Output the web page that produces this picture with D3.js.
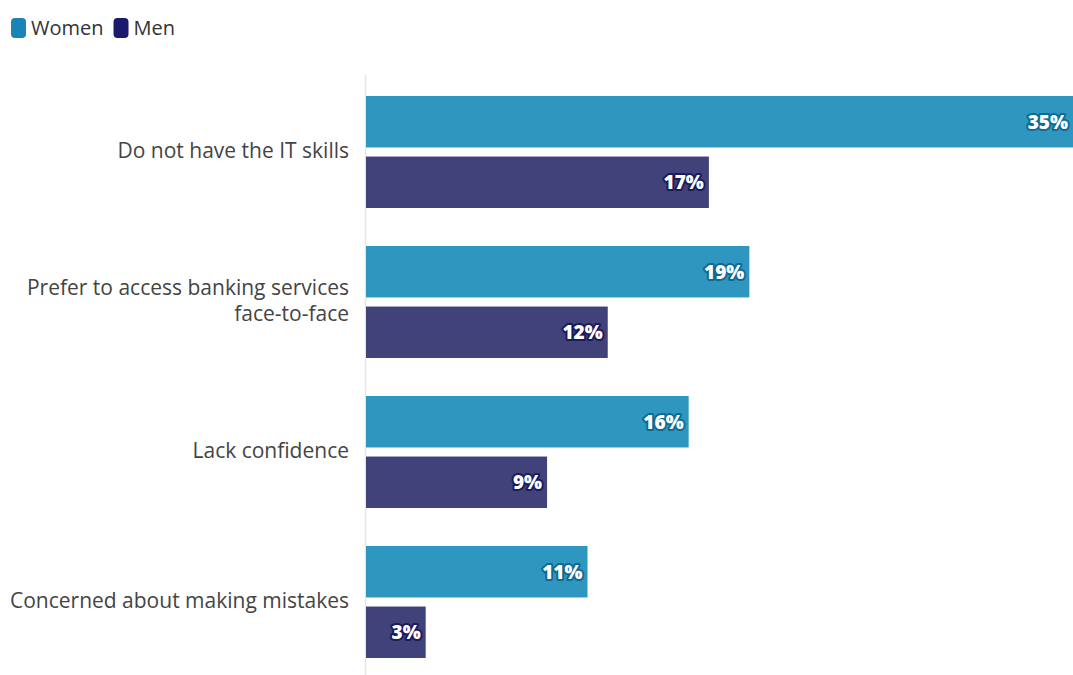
<!DOCTYPE html>
<html>
<head>
<meta charset="utf-8">
<script src="https://cdn.jsdelivr.net/npm/d3@7"></script>
<style>
  html, body { margin: 0; padding: 0; background: #ffffff; }
  svg { display: block; }
</style>
</head>
<body>
<svg id="chart" width="1073" height="675"></svg>
<script>
// Reasons for not using online banking, by gender (%)
const categories = [
  ["Do not have the IT skills"],
  ["Prefer to access banking services", "face-to-face"],
  ["Lack confidence"],
  ["Concerned about making mistakes"]
];
const seriesNames = ["Women", "Men"];
const women = [35, 19, 16, 11];
const men = [17, 12, 9, 3];

const barColors = { Women: "#2f96bf", Men: "#41427a" };
const legendColors = { Women: "#1a84b8", Men: "#1b1b6b" };
const haloColors = { Women: "#0e6a93", Men: "#1a1a5c" };

const font = "'Open Sans', 'Noto Sans', sans-serif";
const svg = d3.select("#chart");

const margin = { top: 75, left: 365, right: 0, bottom: 0 };
const width = 1073 - margin.left - margin.right;
const height = 675 - margin.top - margin.bottom;

const g = svg.append("g").attr("transform", `translate(${margin.left},${margin.top})`);

const x = d3.scaleLinear().domain([0, 35]).range([0, width]);
const y0 = d3.scaleBand().domain(d3.range(categories.length)).range([0, height]).paddingInner(0).paddingOuter(0);
const y1 = d3.scaleBand().domain(seriesNames).range([21, 133]).paddingInner(0.15);

const rows = categories.map((c, i) => ({ i, label: c, values: [
  { key: "Women", value: women[i] },
  { key: "Men", value: men[i] }
]}));

// vertical baseline
g.append("line")
  .attr("x1", 0.5).attr("x2", 0.5)
  .attr("y1", 0).attr("y2", height)
  .attr("stroke", "#e6e6e6").attr("stroke-width", 1.5);

const groups = g.selectAll("g.row").data(rows).join("g")
  .attr("class", "row")
  .attr("transform", d => `translate(0,${y0(d.i)})`);

groups.selectAll("rect").data(d => d.values).join("rect")
  .attr("x", 1)
  .attr("y", d => y1(d.key))
  .attr("width", d => x(d.value) - 1)
  .attr("height", y1.bandwidth())
  .attr("fill", d => barColors[d.key]);

// value labels with a dark halo
groups.selectAll("text.val").data(d => d.values).join("text")
  .attr("class", "val")
  .attr("x", d => x(d.value) - 5)
  .attr("y", d => y1(d.key) + y1.bandwidth() / 2)
  .attr("dy", "0.36em")
  .attr("text-anchor", "end")
  .attr("font-family", font)
  .attr("font-weight", 800)
  .attr("font-size", 19)
  .attr("fill", "#ffffff")
  .attr("stroke", d => haloColors[d.key])
  .attr("stroke-width", 4)
  .attr("stroke-linejoin", "round")
  .attr("paint-order", "stroke")
  .text(d => d.value + "%");

// category labels, one text element per line
const catCenter = (y1(seriesNames[0]) + y1(seriesNames[1]) + y1.bandwidth()) / 2;
const lineGap = 26;
groups.each(function(d) {
  const n = d.label.length;
  d3.select(this).selectAll("text.cat").data(d.label).join("text")
    .attr("class", "cat")
    .attr("x", -16)
    .attr("y", (line, k) => catCenter - 1 + (k - (n - 1) / 2) * lineGap)
    .attr("dy", "0.35em")
    .attr("text-anchor", "end")
    .attr("font-family", font)
    .attr("font-size", 21)
    .attr("fill", "#444444")
    .text(line => line);
});

// legend
const legend = svg.append("g").attr("transform", "translate(11,18)");
let lx = 0;
seriesNames.forEach(name => {
  const item = legend.append("g").attr("transform", `translate(${lx},0)`);
  item.append("rect")
    .attr("width", 15).attr("height", 20).attr("rx", 4)
    .attr("fill", legendColors[name]);
  const t = item.append("text")
    .attr("x", 20).attr("y", 10).attr("dy", "0.36em")
    .attr("font-family", font).attr("font-size", 20)
    .attr("fill", "#333333")
    .text(name);
  lx += 20 + t.node().getComputedTextLength() + 10;
});
</script>
</body>
</html>
